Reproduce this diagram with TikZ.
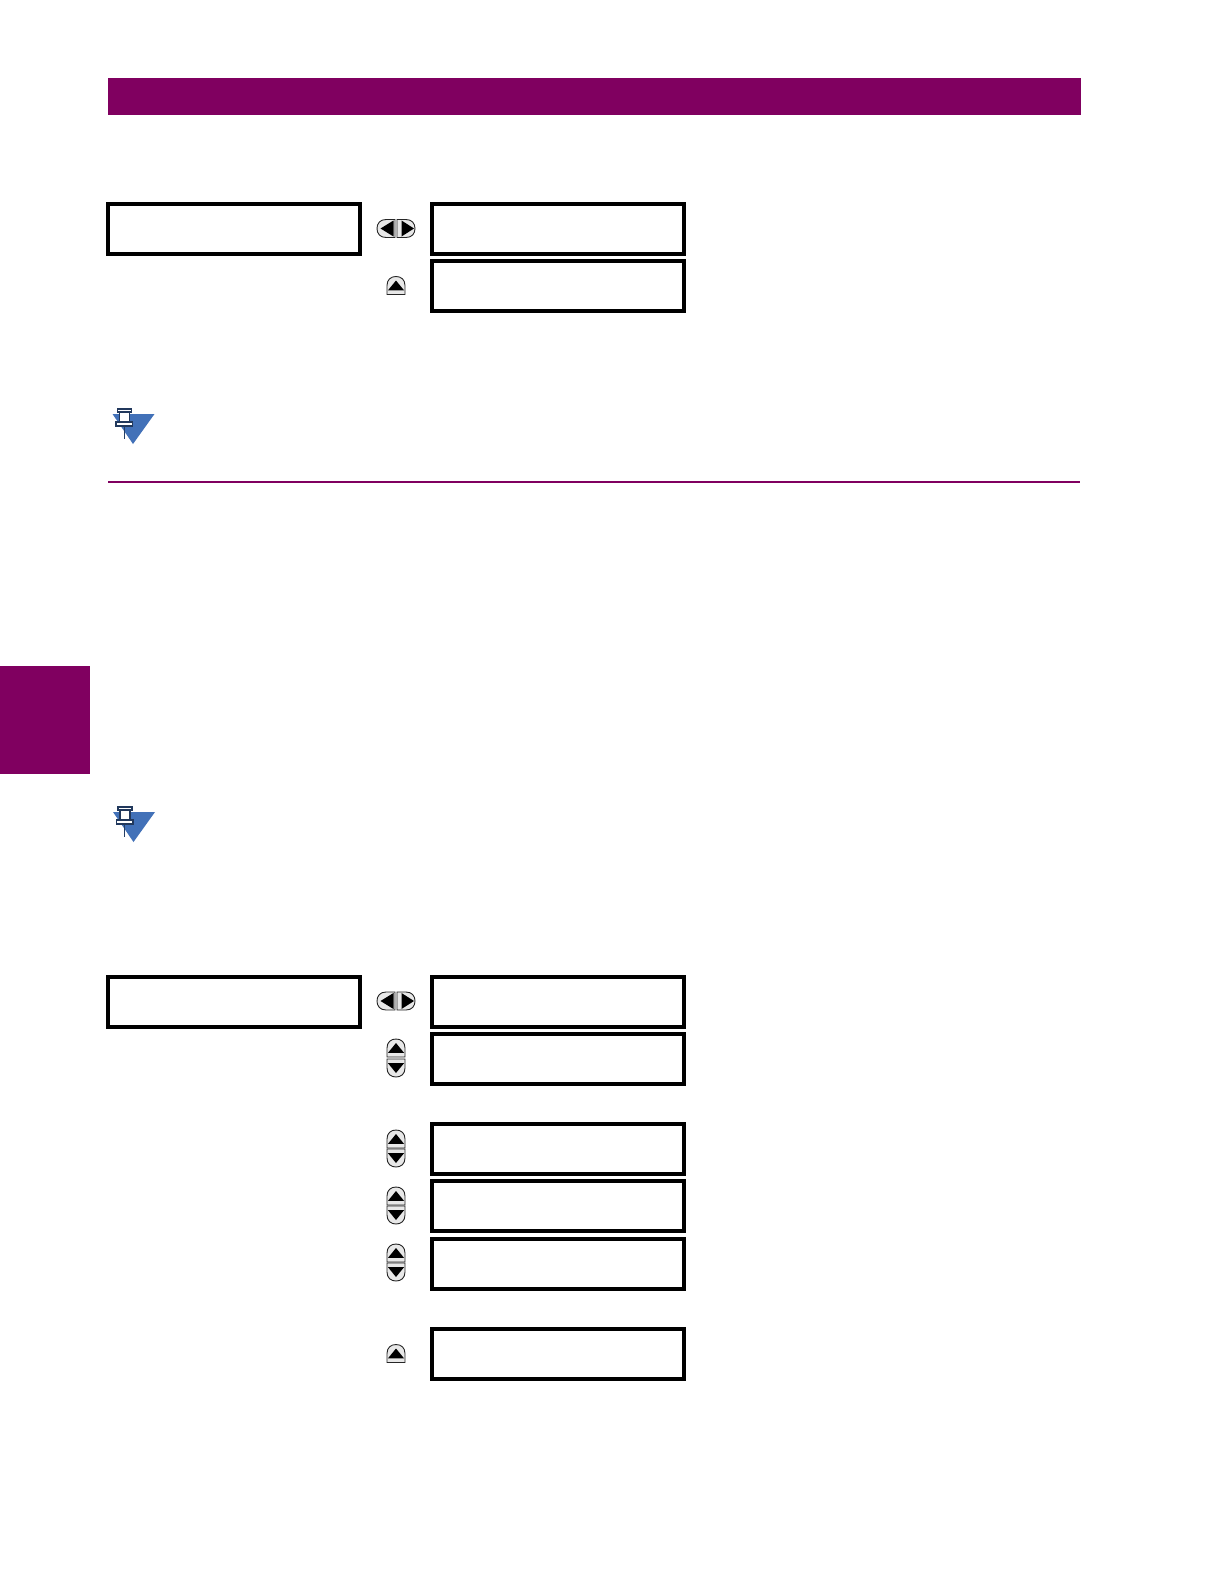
\documentclass[tikz,border=0pt]{standalone}
\definecolor{gemaroon}{RGB}{128,0,96}
\definecolor{noteblue}{RGB}{66,113,184}
\definecolor{btngray}{RGB}{232,232,232}
\tikzset{
  x=1pt,y=-1pt,
  lcdbox/.style={draw=black,line width=3.8pt,fill=white,minimum width=252pt,minimum height=50pt,inner sep=0pt,outer sep=0pt,anchor=north west},
  band/.style={fill=gemaroon,draw=none},
  btn/.style={draw=black!85,line width=0.9pt,fill=btngray},
  tri/.style={fill=black,draw=none},
  pic up/.pic={
    \draw[btn] (-9,9) -- (-9,0) .. controls (-9,-6) and (-5,-9) .. (0,-9) .. controls (5,-9) and (9,-6) .. (9,0) -- (9,9) -- cycle;
    \fill[tri] (-8,4.8) -- (0,-5) -- (8,4.8) -- cycle;
  },
  pic down/.pic={
    \draw[btn] (-9,-9) -- (-9,0) .. controls (-9,6) and (-5,9) .. (0,9) .. controls (5,9) and (9,6) .. (9,0) -- (9,-9) -- cycle;
    \fill[tri] (-8,-4.8) -- (0,5) -- (8,-4.8) -- cycle;
  },
  pic left/.pic={
    \draw[btn] (9,-9) -- (0,-9) .. controls (-6,-9) and (-9,-5) .. (-9,0) .. controls (-9,5) and (-6,9) .. (0,9) -- (9,9) -- cycle;
    \fill[tri] (7.5,-8) -- (-5.5,0) -- (7.5,8) -- cycle;
  },
  pic right/.pic={
    \draw[btn] (-9,-9) -- (0,-9) .. controls (6,-9) and (9,-5) .. (9,0) .. controls (9,5) and (6,9) .. (0,9) -- (-9,9) -- cycle;
    \fill[tri] (-4.5,-8) -- (8,0) -- (-4.5,8) -- cycle;
  },
  pic note/.pic={
    \fill[noteblue] (0,0) -- (42,0) -- (20.5,30) -- cycle;
    \draw[noteblue!55!black,line width=0.8pt] (11.5,10) -- (11.5,25);
    \draw[fill=white,draw=noteblue!50!black,line width=1.2pt] (5,-5) rectangle (19,-2);
    \draw[fill=white,draw=noteblue!50!black,line width=1.2pt] (7,-2) rectangle (17,8);
    \draw[fill=white,draw=noteblue!50!black,line width=1.2pt] (3.5,8) rectangle (20,12);
  },
}
\begin{document}
\begin{tikzpicture}
\useasboundingbox (0,0) rectangle (1224,1584);
\fill[white] (0,0) rectangle (1224,1584);
\fill[band] (108,78) rectangle (1081,115);
\fill[gemaroon] (0,666) rectangle (90,774);
\draw[gemaroon,line width=1.6pt] (108,482) -- (1080,482);
\node[lcdbox] (a1) at (108,204) {};
\node[lcdbox] (a2) at (432,204) {};
\node[lcdbox] (a3) at (432,261) {};
\node[lcdbox] (b1) at (108,977) {};
\node[lcdbox] (b2) at (432,977) {};
\node[lcdbox] (b3) at (432,1034) {};
\node[lcdbox] (b4) at (432,1124) {};
\node[lcdbox] (b5) at (432,1181) {};
\node[lcdbox] (b6) at (432,1239) {};
\node[lcdbox] (b7) at (432,1329) {};
\pic at (386,228.5) {pic left};
\pic at (406,228.5) {pic right};
\pic at (396,285.5) {pic up};
\pic at (386,1001) {pic left};
\pic at (406,1001) {pic right};
\pic at (396,1048) {pic up};
\pic at (396,1068) {pic down};
\pic at (396,1139) {pic up};
\pic at (396,1158) {pic down};
\pic at (396,1196) {pic up};
\pic at (396,1215) {pic down};
\pic at (396,1253) {pic up};
\pic at (396,1272) {pic down};
\pic at (396,1353.5) {pic up};
\pic at (112.5,414) {pic note};
\pic at (113,812) {pic note};
\end{tikzpicture}
\end{document}
